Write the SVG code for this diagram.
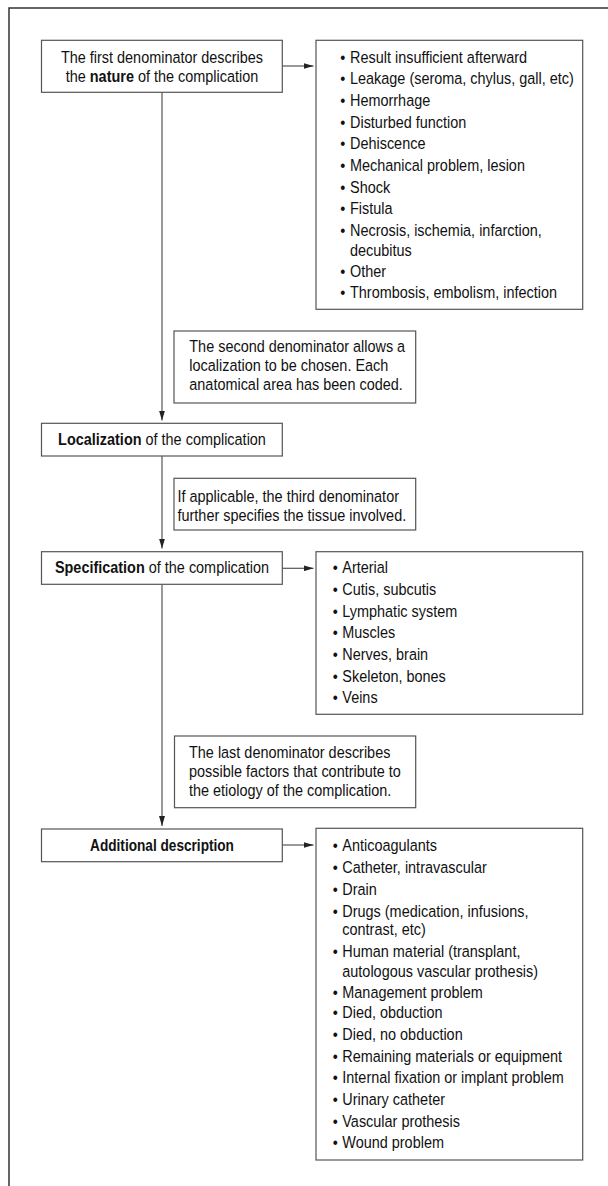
<svg xmlns="http://www.w3.org/2000/svg" width="608" height="1186" viewBox="0 0 608 1186">
<style>
.frame{fill:none;stroke:#333;stroke-width:1.5}
.box{fill:#fff;stroke:#555;stroke-width:1.2}
.conn{fill:none;stroke:#555;stroke-width:1.2}
text{font-family:"Liberation Sans",Arial,Helvetica,sans-serif;font-size:16.5px;fill:#111}
.b{font-weight:bold}
.c{text-anchor:middle}
</style>
<defs>
<marker id="ah" markerUnits="userSpaceOnUse" markerWidth="10" markerHeight="6" refX="10" refY="3" orient="auto">
<path d="M0,0 L10,3 L0,6 z" fill="#222"/>
</marker>
</defs>
<rect width="608" height="1186" fill="#fff"/>
<path class="frame" d="M9,1186 V8 H608"/>
<g id="connectors">
<path class="conn" d="M162,92.3 V420.5" marker-end="url(#ah)"/>
<path class="conn" d="M162,456 V548.5" marker-end="url(#ah)"/>
<path class="conn" d="M162,584.3 V826" marker-end="url(#ah)"/>
<path class="conn" d="M282.3,66 H313.5" marker-end="url(#ah)"/>
<path class="conn" d="M282.3,568.3 H313.5" marker-end="url(#ah)"/>
<path class="conn" d="M282.3,845 H313.5" marker-end="url(#ah)"/>
</g>
<g id="nature">
<rect class="box" x="41.5" y="40.3" width="240.8" height="52"/>
<text class="c" transform="translate(162 63.3) scale(0.875 1)">The first denominator describes</text>
<text class="c" transform="translate(162 81.7) scale(0.875 1)">the <tspan class="b">nature</tspan> of the complication</text>
</g>
<g id="nature-list">
<rect class="box" x="316" y="40.3" width="266.7" height="269"/>
<g class="c">
<text transform="translate(342.7 62.5) scale(0.875 1)">•</text>
<text transform="translate(342.7 84.2) scale(0.875 1)">•</text>
<text transform="translate(342.7 105.8) scale(0.875 1)">•</text>
<text transform="translate(342.7 127.5) scale(0.875 1)">•</text>
<text transform="translate(342.7 149.2) scale(0.875 1)">•</text>
<text transform="translate(342.7 170.8) scale(0.875 1)">•</text>
<text transform="translate(342.7 192.5) scale(0.875 1)">•</text>
<text transform="translate(342.7 214.2) scale(0.875 1)">•</text>
<text transform="translate(342.7 235.8) scale(0.875 1)">•</text>
<text transform="translate(342.7 276.5) scale(0.875 1)">•</text>
<text transform="translate(342.7 298) scale(0.875 1)">•</text>
</g>
<text transform="translate(350 62.5) scale(0.875 1)">Result insufficient afterward</text>
<text transform="translate(350 84.2) scale(0.875 1)">Leakage (seroma, chylus, gall, etc)</text>
<text transform="translate(350 105.8) scale(0.875 1)">Hemorrhage</text>
<text transform="translate(350 127.5) scale(0.875 1)">Disturbed function</text>
<text transform="translate(350 149.2) scale(0.875 1)">Dehiscence</text>
<text transform="translate(350 170.8) scale(0.875 1)">Mechanical problem, lesion</text>
<text transform="translate(350 192.5) scale(0.875 1)">Shock</text>
<text transform="translate(350 214.2) scale(0.875 1)">Fistula</text>
<text transform="translate(350 235.8) scale(0.875 1)">Necrosis, ischemia, infarction,</text>
<text transform="translate(350 255.5) scale(0.875 1)">decubitus</text>
<text transform="translate(350 276.5) scale(0.875 1)">Other</text>
<text transform="translate(350 298) scale(0.875 1)">Thrombosis, embolism, infection</text>
</g>
<g id="note-second">
<rect class="box" x="174" y="331" width="241.7" height="72"/>
<text transform="translate(189.3 351.5) scale(0.875 1)">The second denominator allows a</text>
<text transform="translate(189.3 370.5) scale(0.875 1)">localization to be chosen. Each</text>
<text transform="translate(189.3 389.5) scale(0.875 1)">anatomical area has been coded.</text>
</g>
<g id="localization">
<rect class="box" x="41.5" y="423.3" width="240.8" height="32.7"/>
<text class="c" transform="translate(162 445) scale(0.875 1)"><tspan class="b">Localization</tspan> of the complication</text>
</g>
<g id="note-third">
<rect class="box" x="174" y="478.3" width="241.7" height="51.7"/>
<text transform="translate(177.5 502) scale(0.875 1)">If applicable, the third denominator</text>
<text transform="translate(177.5 521) scale(0.875 1)">further specifies the tissue involved.</text>
</g>
<g id="specification">
<rect class="box" x="41.5" y="551.7" width="240.8" height="32.6"/>
<text class="c" transform="translate(162 573.3) scale(0.875 1)"><tspan class="b">Specification</tspan> of the complication</text>
</g>
<g id="specification-list">
<rect class="box" x="316" y="551.7" width="266.7" height="162.6"/>
<g class="c">
<text transform="translate(335.3 573.3) scale(0.875 1)">•</text>
<text transform="translate(335.3 595) scale(0.875 1)">•</text>
<text transform="translate(335.3 616.7) scale(0.875 1)">•</text>
<text transform="translate(335.3 638.3) scale(0.875 1)">•</text>
<text transform="translate(335.3 660) scale(0.875 1)">•</text>
<text transform="translate(335.3 681.7) scale(0.875 1)">•</text>
<text transform="translate(335.3 703.3) scale(0.875 1)">•</text>
</g>
<text transform="translate(342.3 573.3) scale(0.875 1)">Arterial</text>
<text transform="translate(342.3 595) scale(0.875 1)">Cutis, subcutis</text>
<text transform="translate(342.3 616.7) scale(0.875 1)">Lymphatic system</text>
<text transform="translate(342.3 638.3) scale(0.875 1)">Muscles</text>
<text transform="translate(342.3 660) scale(0.875 1)">Nerves, brain</text>
<text transform="translate(342.3 681.7) scale(0.875 1)">Skeleton, bones</text>
<text transform="translate(342.3 703.3) scale(0.875 1)">Veins</text>
</g>
<g id="note-last">
<rect class="box" x="174.5" y="736" width="241.2" height="71.7"/>
<text transform="translate(189 758) scale(0.875 1)">The last denominator describes</text>
<text transform="translate(189 777) scale(0.875 1)">possible factors that contribute to</text>
<text transform="translate(189 795.5) scale(0.875 1)">the etiology of the complication.</text>
</g>
<g id="additional">
<rect class="box" x="41.5" y="829" width="240.8" height="32.7"/>
<text class="c b" transform="translate(162 850.7) scale(0.827 1)">Additional description</text>
</g>
<g id="additional-list">
<rect class="box" x="316" y="828.3" width="266.7" height="331.7"/>
<g class="c">
<text transform="translate(335.3 851) scale(0.875 1)">•</text>
<text transform="translate(335.3 872.7) scale(0.875 1)">•</text>
<text transform="translate(335.3 895) scale(0.875 1)">•</text>
<text transform="translate(335.3 916.7) scale(0.875 1)">•</text>
<text transform="translate(335.3 956.7) scale(0.875 1)">•</text>
<text transform="translate(335.3 997.7) scale(0.875 1)">•</text>
<text transform="translate(335.3 1018.3) scale(0.875 1)">•</text>
<text transform="translate(335.3 1040) scale(0.875 1)">•</text>
<text transform="translate(335.3 1061.7) scale(0.875 1)">•</text>
<text transform="translate(335.3 1083.3) scale(0.875 1)">•</text>
<text transform="translate(335.3 1105) scale(0.875 1)">•</text>
<text transform="translate(335.3 1126.7) scale(0.875 1)">•</text>
<text transform="translate(335.3 1148.3) scale(0.875 1)">•</text>
</g>
<text transform="translate(342.3 851) scale(0.875 1)">Anticoagulants</text>
<text transform="translate(342.3 872.7) scale(0.875 1)">Catheter, intravascular</text>
<text transform="translate(342.3 895) scale(0.875 1)">Drain</text>
<text transform="translate(342.3 916.7) scale(0.875 1)">Drugs (medication, infusions,</text>
<text transform="translate(342.3 935) scale(0.875 1)">contrast, etc)</text>
<text transform="translate(342.3 956.7) scale(0.875 1)">Human material (transplant,</text>
<text transform="translate(342.3 976.7) scale(0.875 1)">autologous vascular prothesis)</text>
<text transform="translate(342.3 997.7) scale(0.875 1)">Management problem</text>
<text transform="translate(342.3 1018.3) scale(0.875 1)">Died, obduction</text>
<text transform="translate(342.3 1040) scale(0.875 1)">Died, no obduction</text>
<text transform="translate(342.3 1061.7) scale(0.875 1)">Remaining materials or equipment</text>
<text transform="translate(342.3 1083.3) scale(0.875 1)">Internal fixation or implant problem</text>
<text transform="translate(342.3 1105) scale(0.875 1)">Urinary catheter</text>
<text transform="translate(342.3 1126.7) scale(0.875 1)">Vascular prothesis</text>
<text transform="translate(342.3 1148.3) scale(0.875 1)">Wound problem</text>
</g>
</svg>
